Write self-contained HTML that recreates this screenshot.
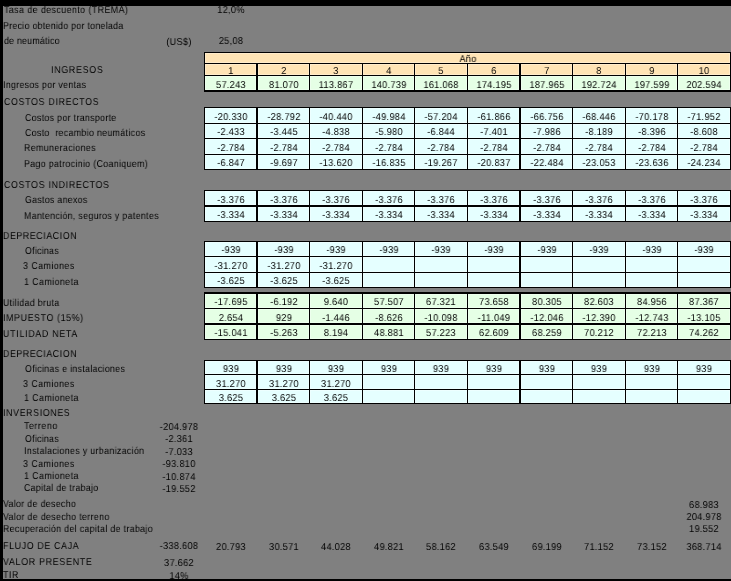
<!DOCTYPE html>
<html><head><meta charset="utf-8"><style>
html,body{margin:0;padding:0;}
body{width:731px;height:581px;position:relative;overflow:hidden;background:#808080;}
.r{position:absolute;}
.c{box-shadow:inset 0 0 0 1px rgba(255,255,255,0.3);}
.t{position:absolute;will-change:transform;text-rendering:geometricPrecision;font-family:"Liberation Sans", sans-serif;font-size:10px;line-height:12px;height:12px;white-space:pre;color:#000;}
.n{}
</style></head><body>
<div class="r" style="left:0px;top:0px;width:731px;height:6px;background:#000"></div>
<div class="r" style="left:0px;top:0px;width:3px;height:581px;background:#000"></div>
<div class="r" style="left:0px;top:579px;width:731px;height:2px;background:#000"></div>
<div class="r" style="left:204px;top:52px;width:527px;height:40px;background:#000"></div>
<div class="r c" style="left:205px;top:53px;width:525px;height:10px;background:#FFE4B5"></div>
<div class="r c" style="left:205px;top:64px;width:51px;height:11px;background:#FFE4B5"></div>
<div class="r c" style="left:258px;top:64px;width:51px;height:11px;background:#FFE4B5"></div>
<div class="r c" style="left:310px;top:64px;width:52px;height:11px;background:#FFE4B5"></div>
<div class="r c" style="left:363px;top:64px;width:51px;height:11px;background:#FFE4B5"></div>
<div class="r c" style="left:415px;top:64px;width:52px;height:11px;background:#FFE4B5"></div>
<div class="r c" style="left:468px;top:64px;width:51px;height:11px;background:#FFE4B5"></div>
<div class="r c" style="left:521px;top:64px;width:51px;height:11px;background:#FFE4B5"></div>
<div class="r c" style="left:573px;top:64px;width:52px;height:11px;background:#FFE4B5"></div>
<div class="r c" style="left:626px;top:64px;width:51px;height:11px;background:#FFE4B5"></div>
<div class="r c" style="left:678px;top:64px;width:52px;height:11px;background:#FFE4B5"></div>
<div class="r c" style="left:205px;top:76px;width:51px;height:14px;background:#E5FFE5"></div>
<div class="r c" style="left:258px;top:76px;width:51px;height:14px;background:#E5FFE5"></div>
<div class="r c" style="left:310px;top:76px;width:52px;height:14px;background:#E5FFE5"></div>
<div class="r c" style="left:363px;top:76px;width:51px;height:14px;background:#E5FFE5"></div>
<div class="r c" style="left:415px;top:76px;width:52px;height:14px;background:#E5FFE5"></div>
<div class="r c" style="left:468px;top:76px;width:51px;height:14px;background:#E5FFE5"></div>
<div class="r c" style="left:521px;top:76px;width:51px;height:14px;background:#E5FFE5"></div>
<div class="r c" style="left:573px;top:76px;width:52px;height:14px;background:#E5FFE5"></div>
<div class="r c" style="left:626px;top:76px;width:51px;height:14px;background:#E5FFE5"></div>
<div class="r c" style="left:678px;top:76px;width:52px;height:14px;background:#E5FFE5"></div>
<div class="r" style="left:204px;top:107px;width:527px;height:63px;background:#000"></div>
<div class="r c" style="left:205px;top:108px;width:51px;height:15px;background:#E5FFFF"></div>
<div class="r c" style="left:258px;top:108px;width:51px;height:15px;background:#E5FFFF"></div>
<div class="r c" style="left:310px;top:108px;width:52px;height:15px;background:#E5FFFF"></div>
<div class="r c" style="left:363px;top:108px;width:51px;height:15px;background:#E5FFFF"></div>
<div class="r c" style="left:415px;top:108px;width:52px;height:15px;background:#E5FFFF"></div>
<div class="r c" style="left:468px;top:108px;width:51px;height:15px;background:#E5FFFF"></div>
<div class="r c" style="left:521px;top:108px;width:51px;height:15px;background:#E5FFFF"></div>
<div class="r c" style="left:573px;top:108px;width:52px;height:15px;background:#E5FFFF"></div>
<div class="r c" style="left:626px;top:108px;width:51px;height:15px;background:#E5FFFF"></div>
<div class="r c" style="left:678px;top:108px;width:52px;height:15px;background:#E5FFFF"></div>
<div class="r c" style="left:205px;top:124px;width:51px;height:14px;background:#E5FFFF"></div>
<div class="r c" style="left:258px;top:124px;width:51px;height:14px;background:#E5FFFF"></div>
<div class="r c" style="left:310px;top:124px;width:52px;height:14px;background:#E5FFFF"></div>
<div class="r c" style="left:363px;top:124px;width:51px;height:14px;background:#E5FFFF"></div>
<div class="r c" style="left:415px;top:124px;width:52px;height:14px;background:#E5FFFF"></div>
<div class="r c" style="left:468px;top:124px;width:51px;height:14px;background:#E5FFFF"></div>
<div class="r c" style="left:521px;top:124px;width:51px;height:14px;background:#E5FFFF"></div>
<div class="r c" style="left:573px;top:124px;width:52px;height:14px;background:#E5FFFF"></div>
<div class="r c" style="left:626px;top:124px;width:51px;height:14px;background:#E5FFFF"></div>
<div class="r c" style="left:678px;top:124px;width:52px;height:14px;background:#E5FFFF"></div>
<div class="r c" style="left:205px;top:139px;width:51px;height:15px;background:#E5FFFF"></div>
<div class="r c" style="left:258px;top:139px;width:51px;height:15px;background:#E5FFFF"></div>
<div class="r c" style="left:310px;top:139px;width:52px;height:15px;background:#E5FFFF"></div>
<div class="r c" style="left:363px;top:139px;width:51px;height:15px;background:#E5FFFF"></div>
<div class="r c" style="left:415px;top:139px;width:52px;height:15px;background:#E5FFFF"></div>
<div class="r c" style="left:468px;top:139px;width:51px;height:15px;background:#E5FFFF"></div>
<div class="r c" style="left:521px;top:139px;width:51px;height:15px;background:#E5FFFF"></div>
<div class="r c" style="left:573px;top:139px;width:52px;height:15px;background:#E5FFFF"></div>
<div class="r c" style="left:626px;top:139px;width:51px;height:15px;background:#E5FFFF"></div>
<div class="r c" style="left:678px;top:139px;width:52px;height:15px;background:#E5FFFF"></div>
<div class="r c" style="left:205px;top:155px;width:51px;height:14px;background:#E5FFFF"></div>
<div class="r c" style="left:258px;top:155px;width:51px;height:14px;background:#E5FFFF"></div>
<div class="r c" style="left:310px;top:155px;width:52px;height:14px;background:#E5FFFF"></div>
<div class="r c" style="left:363px;top:155px;width:51px;height:14px;background:#E5FFFF"></div>
<div class="r c" style="left:415px;top:155px;width:52px;height:14px;background:#E5FFFF"></div>
<div class="r c" style="left:468px;top:155px;width:51px;height:14px;background:#E5FFFF"></div>
<div class="r c" style="left:521px;top:155px;width:51px;height:14px;background:#E5FFFF"></div>
<div class="r c" style="left:573px;top:155px;width:52px;height:14px;background:#E5FFFF"></div>
<div class="r c" style="left:626px;top:155px;width:51px;height:14px;background:#E5FFFF"></div>
<div class="r c" style="left:678px;top:155px;width:52px;height:14px;background:#E5FFFF"></div>
<div class="r" style="left:204px;top:190px;width:527px;height:32px;background:#000"></div>
<div class="r c" style="left:205px;top:191px;width:51px;height:14px;background:#E5FFFF"></div>
<div class="r c" style="left:258px;top:191px;width:51px;height:14px;background:#E5FFFF"></div>
<div class="r c" style="left:310px;top:191px;width:52px;height:14px;background:#E5FFFF"></div>
<div class="r c" style="left:363px;top:191px;width:51px;height:14px;background:#E5FFFF"></div>
<div class="r c" style="left:415px;top:191px;width:52px;height:14px;background:#E5FFFF"></div>
<div class="r c" style="left:468px;top:191px;width:51px;height:14px;background:#E5FFFF"></div>
<div class="r c" style="left:521px;top:191px;width:51px;height:14px;background:#E5FFFF"></div>
<div class="r c" style="left:573px;top:191px;width:52px;height:14px;background:#E5FFFF"></div>
<div class="r c" style="left:626px;top:191px;width:51px;height:14px;background:#E5FFFF"></div>
<div class="r c" style="left:678px;top:191px;width:52px;height:14px;background:#E5FFFF"></div>
<div class="r c" style="left:205px;top:207px;width:51px;height:14px;background:#E5FFFF"></div>
<div class="r c" style="left:258px;top:207px;width:51px;height:14px;background:#E5FFFF"></div>
<div class="r c" style="left:310px;top:207px;width:52px;height:14px;background:#E5FFFF"></div>
<div class="r c" style="left:363px;top:207px;width:51px;height:14px;background:#E5FFFF"></div>
<div class="r c" style="left:415px;top:207px;width:52px;height:14px;background:#E5FFFF"></div>
<div class="r c" style="left:468px;top:207px;width:51px;height:14px;background:#E5FFFF"></div>
<div class="r c" style="left:521px;top:207px;width:51px;height:14px;background:#E5FFFF"></div>
<div class="r c" style="left:573px;top:207px;width:52px;height:14px;background:#E5FFFF"></div>
<div class="r c" style="left:626px;top:207px;width:51px;height:14px;background:#E5FFFF"></div>
<div class="r c" style="left:678px;top:207px;width:52px;height:14px;background:#E5FFFF"></div>
<div class="r" style="left:204px;top:241px;width:527px;height:47px;background:#000"></div>
<div class="r c" style="left:205px;top:242px;width:51px;height:14px;background:#E5FFFF"></div>
<div class="r c" style="left:258px;top:242px;width:51px;height:14px;background:#E5FFFF"></div>
<div class="r c" style="left:310px;top:242px;width:52px;height:14px;background:#E5FFFF"></div>
<div class="r c" style="left:363px;top:242px;width:51px;height:14px;background:#E5FFFF"></div>
<div class="r c" style="left:415px;top:242px;width:52px;height:14px;background:#E5FFFF"></div>
<div class="r c" style="left:468px;top:242px;width:51px;height:14px;background:#E5FFFF"></div>
<div class="r c" style="left:521px;top:242px;width:51px;height:14px;background:#E5FFFF"></div>
<div class="r c" style="left:573px;top:242px;width:52px;height:14px;background:#E5FFFF"></div>
<div class="r c" style="left:626px;top:242px;width:51px;height:14px;background:#E5FFFF"></div>
<div class="r c" style="left:678px;top:242px;width:52px;height:14px;background:#E5FFFF"></div>
<div class="r c" style="left:205px;top:257px;width:51px;height:15px;background:#E5FFFF"></div>
<div class="r c" style="left:258px;top:257px;width:51px;height:15px;background:#E5FFFF"></div>
<div class="r c" style="left:310px;top:257px;width:52px;height:15px;background:#E5FFFF"></div>
<div class="r c" style="left:363px;top:257px;width:51px;height:15px;background:#E5FFFF"></div>
<div class="r c" style="left:415px;top:257px;width:52px;height:15px;background:#E5FFFF"></div>
<div class="r c" style="left:468px;top:257px;width:51px;height:15px;background:#E5FFFF"></div>
<div class="r c" style="left:521px;top:257px;width:51px;height:15px;background:#E5FFFF"></div>
<div class="r c" style="left:573px;top:257px;width:52px;height:15px;background:#E5FFFF"></div>
<div class="r c" style="left:626px;top:257px;width:51px;height:15px;background:#E5FFFF"></div>
<div class="r c" style="left:678px;top:257px;width:52px;height:15px;background:#E5FFFF"></div>
<div class="r c" style="left:205px;top:273px;width:51px;height:14px;background:#E5FFFF"></div>
<div class="r c" style="left:258px;top:273px;width:51px;height:14px;background:#E5FFFF"></div>
<div class="r c" style="left:310px;top:273px;width:52px;height:14px;background:#E5FFFF"></div>
<div class="r c" style="left:363px;top:273px;width:51px;height:14px;background:#E5FFFF"></div>
<div class="r c" style="left:415px;top:273px;width:52px;height:14px;background:#E5FFFF"></div>
<div class="r c" style="left:468px;top:273px;width:51px;height:14px;background:#E5FFFF"></div>
<div class="r c" style="left:521px;top:273px;width:51px;height:14px;background:#E5FFFF"></div>
<div class="r c" style="left:573px;top:273px;width:52px;height:14px;background:#E5FFFF"></div>
<div class="r c" style="left:626px;top:273px;width:51px;height:14px;background:#E5FFFF"></div>
<div class="r c" style="left:678px;top:273px;width:52px;height:14px;background:#E5FFFF"></div>
<div class="r" style="left:204px;top:292px;width:527px;height:48px;background:#000"></div>
<div class="r c" style="left:205px;top:294px;width:51px;height:14px;background:#E5FFE5"></div>
<div class="r c" style="left:258px;top:294px;width:51px;height:14px;background:#E5FFE5"></div>
<div class="r c" style="left:310px;top:294px;width:52px;height:14px;background:#E5FFE5"></div>
<div class="r c" style="left:363px;top:294px;width:51px;height:14px;background:#E5FFE5"></div>
<div class="r c" style="left:415px;top:294px;width:52px;height:14px;background:#E5FFE5"></div>
<div class="r c" style="left:468px;top:294px;width:51px;height:14px;background:#E5FFE5"></div>
<div class="r c" style="left:521px;top:294px;width:51px;height:14px;background:#E5FFE5"></div>
<div class="r c" style="left:573px;top:294px;width:52px;height:14px;background:#E5FFE5"></div>
<div class="r c" style="left:626px;top:294px;width:51px;height:14px;background:#E5FFE5"></div>
<div class="r c" style="left:678px;top:294px;width:52px;height:14px;background:#E5FFE5"></div>
<div class="r c" style="left:205px;top:309px;width:51px;height:14px;background:#E5FFE5"></div>
<div class="r c" style="left:258px;top:309px;width:51px;height:14px;background:#E5FFE5"></div>
<div class="r c" style="left:310px;top:309px;width:52px;height:14px;background:#E5FFE5"></div>
<div class="r c" style="left:363px;top:309px;width:51px;height:14px;background:#E5FFE5"></div>
<div class="r c" style="left:415px;top:309px;width:52px;height:14px;background:#E5FFE5"></div>
<div class="r c" style="left:468px;top:309px;width:51px;height:14px;background:#E5FFE5"></div>
<div class="r c" style="left:521px;top:309px;width:51px;height:14px;background:#E5FFE5"></div>
<div class="r c" style="left:573px;top:309px;width:52px;height:14px;background:#E5FFE5"></div>
<div class="r c" style="left:626px;top:309px;width:51px;height:14px;background:#E5FFE5"></div>
<div class="r c" style="left:678px;top:309px;width:52px;height:14px;background:#E5FFE5"></div>
<div class="r c" style="left:205px;top:325px;width:51px;height:14px;background:#E5FFE5"></div>
<div class="r c" style="left:258px;top:325px;width:51px;height:14px;background:#E5FFE5"></div>
<div class="r c" style="left:310px;top:325px;width:52px;height:14px;background:#E5FFE5"></div>
<div class="r c" style="left:363px;top:325px;width:51px;height:14px;background:#E5FFE5"></div>
<div class="r c" style="left:415px;top:325px;width:52px;height:14px;background:#E5FFE5"></div>
<div class="r c" style="left:468px;top:325px;width:51px;height:14px;background:#E5FFE5"></div>
<div class="r c" style="left:521px;top:325px;width:51px;height:14px;background:#E5FFE5"></div>
<div class="r c" style="left:573px;top:325px;width:52px;height:14px;background:#E5FFE5"></div>
<div class="r c" style="left:626px;top:325px;width:51px;height:14px;background:#E5FFE5"></div>
<div class="r c" style="left:678px;top:325px;width:52px;height:14px;background:#E5FFE5"></div>
<div class="r" style="left:204px;top:360px;width:527px;height:44px;background:#000"></div>
<div class="r c" style="left:205px;top:361px;width:51px;height:13px;background:#E5FFFF"></div>
<div class="r c" style="left:258px;top:361px;width:51px;height:13px;background:#E5FFFF"></div>
<div class="r c" style="left:310px;top:361px;width:52px;height:13px;background:#E5FFFF"></div>
<div class="r c" style="left:363px;top:361px;width:51px;height:13px;background:#E5FFFF"></div>
<div class="r c" style="left:415px;top:361px;width:52px;height:13px;background:#E5FFFF"></div>
<div class="r c" style="left:468px;top:361px;width:51px;height:13px;background:#E5FFFF"></div>
<div class="r c" style="left:521px;top:361px;width:51px;height:13px;background:#E5FFFF"></div>
<div class="r c" style="left:573px;top:361px;width:52px;height:13px;background:#E5FFFF"></div>
<div class="r c" style="left:626px;top:361px;width:51px;height:13px;background:#E5FFFF"></div>
<div class="r c" style="left:678px;top:361px;width:52px;height:13px;background:#E5FFFF"></div>
<div class="r c" style="left:205px;top:375px;width:51px;height:14px;background:#E5FFFF"></div>
<div class="r c" style="left:258px;top:375px;width:51px;height:14px;background:#E5FFFF"></div>
<div class="r c" style="left:310px;top:375px;width:52px;height:14px;background:#E5FFFF"></div>
<div class="r c" style="left:363px;top:375px;width:51px;height:14px;background:#E5FFFF"></div>
<div class="r c" style="left:415px;top:375px;width:52px;height:14px;background:#E5FFFF"></div>
<div class="r c" style="left:468px;top:375px;width:51px;height:14px;background:#E5FFFF"></div>
<div class="r c" style="left:521px;top:375px;width:51px;height:14px;background:#E5FFFF"></div>
<div class="r c" style="left:573px;top:375px;width:52px;height:14px;background:#E5FFFF"></div>
<div class="r c" style="left:626px;top:375px;width:51px;height:14px;background:#E5FFFF"></div>
<div class="r c" style="left:678px;top:375px;width:52px;height:14px;background:#E5FFFF"></div>
<div class="r c" style="left:205px;top:390px;width:51px;height:13px;background:#E5FFFF"></div>
<div class="r c" style="left:258px;top:390px;width:51px;height:13px;background:#E5FFFF"></div>
<div class="r c" style="left:310px;top:390px;width:52px;height:13px;background:#E5FFFF"></div>
<div class="r c" style="left:363px;top:390px;width:51px;height:13px;background:#E5FFFF"></div>
<div class="r c" style="left:415px;top:390px;width:52px;height:13px;background:#E5FFFF"></div>
<div class="r c" style="left:468px;top:390px;width:51px;height:13px;background:#E5FFFF"></div>
<div class="r c" style="left:521px;top:390px;width:51px;height:13px;background:#E5FFFF"></div>
<div class="r c" style="left:573px;top:390px;width:52px;height:13px;background:#E5FFFF"></div>
<div class="r c" style="left:626px;top:390px;width:51px;height:13px;background:#E5FFFF"></div>
<div class="r c" style="left:678px;top:390px;width:52px;height:13px;background:#E5FFFF"></div>
<div class="t n" style="top:54px;left:367.5px;width:200px;text-align:center;letter-spacing:0.3px;transform:scaleX(0.92);transform-origin:50% 0;">Año</div>
<div class="t n" style="top:66px;left:130.5px;width:200px;text-align:center;letter-spacing:0.3px;transform:scaleX(0.92);transform-origin:50% 0;">1</div>
<div class="t n" style="top:66px;left:183.5px;width:200px;text-align:center;letter-spacing:0.3px;transform:scaleX(0.92);transform-origin:50% 0;">2</div>
<div class="t n" style="top:66px;left:236.0px;width:200px;text-align:center;letter-spacing:0.3px;transform:scaleX(0.92);transform-origin:50% 0;">3</div>
<div class="t n" style="top:66px;left:288.5px;width:200px;text-align:center;letter-spacing:0.3px;transform:scaleX(0.92);transform-origin:50% 0;">4</div>
<div class="t n" style="top:66px;left:341.0px;width:200px;text-align:center;letter-spacing:0.3px;transform:scaleX(0.92);transform-origin:50% 0;">5</div>
<div class="t n" style="top:66px;left:393.5px;width:200px;text-align:center;letter-spacing:0.3px;transform:scaleX(0.92);transform-origin:50% 0;">6</div>
<div class="t n" style="top:66px;left:446.5px;width:200px;text-align:center;letter-spacing:0.3px;transform:scaleX(0.92);transform-origin:50% 0;">7</div>
<div class="t n" style="top:66px;left:499.0px;width:200px;text-align:center;letter-spacing:0.3px;transform:scaleX(0.92);transform-origin:50% 0;">8</div>
<div class="t n" style="top:66px;left:551.5px;width:200px;text-align:center;letter-spacing:0.3px;transform:scaleX(0.92);transform-origin:50% 0;">9</div>
<div class="t n" style="top:66px;left:604.0px;width:200px;text-align:center;letter-spacing:0.3px;transform:scaleX(0.92);transform-origin:50% 0;">10</div>
<div class="t n" style="top:80px;left:130.5px;width:200px;text-align:center;letter-spacing:0.3px;transform:scaleX(0.92);transform-origin:50% 0;">57.243</div>
<div class="t n" style="top:80px;left:183.5px;width:200px;text-align:center;letter-spacing:0.3px;transform:scaleX(0.92);transform-origin:50% 0;">81.070</div>
<div class="t n" style="top:80px;left:236.0px;width:200px;text-align:center;letter-spacing:0.3px;transform:scaleX(0.92);transform-origin:50% 0;">113.867</div>
<div class="t n" style="top:80px;left:288.5px;width:200px;text-align:center;letter-spacing:0.3px;transform:scaleX(0.92);transform-origin:50% 0;">140.739</div>
<div class="t n" style="top:80px;left:341.0px;width:200px;text-align:center;letter-spacing:0.3px;transform:scaleX(0.92);transform-origin:50% 0;">161.068</div>
<div class="t n" style="top:80px;left:393.5px;width:200px;text-align:center;letter-spacing:0.3px;transform:scaleX(0.92);transform-origin:50% 0;">174.195</div>
<div class="t n" style="top:80px;left:446.5px;width:200px;text-align:center;letter-spacing:0.3px;transform:scaleX(0.92);transform-origin:50% 0;">187.965</div>
<div class="t n" style="top:80px;left:499.0px;width:200px;text-align:center;letter-spacing:0.3px;transform:scaleX(0.92);transform-origin:50% 0;">192.724</div>
<div class="t n" style="top:80px;left:551.5px;width:200px;text-align:center;letter-spacing:0.3px;transform:scaleX(0.92);transform-origin:50% 0;">197.599</div>
<div class="t n" style="top:80px;left:604.0px;width:200px;text-align:center;letter-spacing:0.3px;transform:scaleX(0.92);transform-origin:50% 0;">202.594</div>
<div class="t n" style="top:112px;left:130.5px;width:200px;text-align:center;letter-spacing:0.3px;transform:scaleX(0.92);transform-origin:50% 0;">-20.330</div>
<div class="t n" style="top:112px;left:183.5px;width:200px;text-align:center;letter-spacing:0.3px;transform:scaleX(0.92);transform-origin:50% 0;">-28.792</div>
<div class="t n" style="top:112px;left:236.0px;width:200px;text-align:center;letter-spacing:0.3px;transform:scaleX(0.92);transform-origin:50% 0;">-40.440</div>
<div class="t n" style="top:112px;left:288.5px;width:200px;text-align:center;letter-spacing:0.3px;transform:scaleX(0.92);transform-origin:50% 0;">-49.984</div>
<div class="t n" style="top:112px;left:341.0px;width:200px;text-align:center;letter-spacing:0.3px;transform:scaleX(0.92);transform-origin:50% 0;">-57.204</div>
<div class="t n" style="top:112px;left:393.5px;width:200px;text-align:center;letter-spacing:0.3px;transform:scaleX(0.92);transform-origin:50% 0;">-61.866</div>
<div class="t n" style="top:112px;left:446.5px;width:200px;text-align:center;letter-spacing:0.3px;transform:scaleX(0.92);transform-origin:50% 0;">-66.756</div>
<div class="t n" style="top:112px;left:499.0px;width:200px;text-align:center;letter-spacing:0.3px;transform:scaleX(0.92);transform-origin:50% 0;">-68.446</div>
<div class="t n" style="top:112px;left:551.5px;width:200px;text-align:center;letter-spacing:0.3px;transform:scaleX(0.92);transform-origin:50% 0;">-70.178</div>
<div class="t n" style="top:112px;left:604.0px;width:200px;text-align:center;letter-spacing:0.3px;transform:scaleX(0.92);transform-origin:50% 0;">-71.952</div>
<div class="t n" style="top:127px;left:130.5px;width:200px;text-align:center;letter-spacing:0.3px;transform:scaleX(0.92);transform-origin:50% 0;">-2.433</div>
<div class="t n" style="top:127px;left:183.5px;width:200px;text-align:center;letter-spacing:0.3px;transform:scaleX(0.92);transform-origin:50% 0;">-3.445</div>
<div class="t n" style="top:127px;left:236.0px;width:200px;text-align:center;letter-spacing:0.3px;transform:scaleX(0.92);transform-origin:50% 0;">-4.838</div>
<div class="t n" style="top:127px;left:288.5px;width:200px;text-align:center;letter-spacing:0.3px;transform:scaleX(0.92);transform-origin:50% 0;">-5.980</div>
<div class="t n" style="top:127px;left:341.0px;width:200px;text-align:center;letter-spacing:0.3px;transform:scaleX(0.92);transform-origin:50% 0;">-6.844</div>
<div class="t n" style="top:127px;left:393.5px;width:200px;text-align:center;letter-spacing:0.3px;transform:scaleX(0.92);transform-origin:50% 0;">-7.401</div>
<div class="t n" style="top:127px;left:446.5px;width:200px;text-align:center;letter-spacing:0.3px;transform:scaleX(0.92);transform-origin:50% 0;">-7.986</div>
<div class="t n" style="top:127px;left:499.0px;width:200px;text-align:center;letter-spacing:0.3px;transform:scaleX(0.92);transform-origin:50% 0;">-8.189</div>
<div class="t n" style="top:127px;left:551.5px;width:200px;text-align:center;letter-spacing:0.3px;transform:scaleX(0.92);transform-origin:50% 0;">-8.396</div>
<div class="t n" style="top:127px;left:604.0px;width:200px;text-align:center;letter-spacing:0.3px;transform:scaleX(0.92);transform-origin:50% 0;">-8.608</div>
<div class="t n" style="top:143px;left:130.5px;width:200px;text-align:center;letter-spacing:0.3px;transform:scaleX(0.92);transform-origin:50% 0;">-2.784</div>
<div class="t n" style="top:143px;left:183.5px;width:200px;text-align:center;letter-spacing:0.3px;transform:scaleX(0.92);transform-origin:50% 0;">-2.784</div>
<div class="t n" style="top:143px;left:236.0px;width:200px;text-align:center;letter-spacing:0.3px;transform:scaleX(0.92);transform-origin:50% 0;">-2.784</div>
<div class="t n" style="top:143px;left:288.5px;width:200px;text-align:center;letter-spacing:0.3px;transform:scaleX(0.92);transform-origin:50% 0;">-2.784</div>
<div class="t n" style="top:143px;left:341.0px;width:200px;text-align:center;letter-spacing:0.3px;transform:scaleX(0.92);transform-origin:50% 0;">-2.784</div>
<div class="t n" style="top:143px;left:393.5px;width:200px;text-align:center;letter-spacing:0.3px;transform:scaleX(0.92);transform-origin:50% 0;">-2.784</div>
<div class="t n" style="top:143px;left:446.5px;width:200px;text-align:center;letter-spacing:0.3px;transform:scaleX(0.92);transform-origin:50% 0;">-2.784</div>
<div class="t n" style="top:143px;left:499.0px;width:200px;text-align:center;letter-spacing:0.3px;transform:scaleX(0.92);transform-origin:50% 0;">-2.784</div>
<div class="t n" style="top:143px;left:551.5px;width:200px;text-align:center;letter-spacing:0.3px;transform:scaleX(0.92);transform-origin:50% 0;">-2.784</div>
<div class="t n" style="top:143px;left:604.0px;width:200px;text-align:center;letter-spacing:0.3px;transform:scaleX(0.92);transform-origin:50% 0;">-2.784</div>
<div class="t n" style="top:158px;left:130.5px;width:200px;text-align:center;letter-spacing:0.3px;transform:scaleX(0.92);transform-origin:50% 0;">-6.847</div>
<div class="t n" style="top:158px;left:183.5px;width:200px;text-align:center;letter-spacing:0.3px;transform:scaleX(0.92);transform-origin:50% 0;">-9.697</div>
<div class="t n" style="top:158px;left:236.0px;width:200px;text-align:center;letter-spacing:0.3px;transform:scaleX(0.92);transform-origin:50% 0;">-13.620</div>
<div class="t n" style="top:158px;left:288.5px;width:200px;text-align:center;letter-spacing:0.3px;transform:scaleX(0.92);transform-origin:50% 0;">-16.835</div>
<div class="t n" style="top:158px;left:341.0px;width:200px;text-align:center;letter-spacing:0.3px;transform:scaleX(0.92);transform-origin:50% 0;">-19.267</div>
<div class="t n" style="top:158px;left:393.5px;width:200px;text-align:center;letter-spacing:0.3px;transform:scaleX(0.92);transform-origin:50% 0;">-20.837</div>
<div class="t n" style="top:158px;left:446.5px;width:200px;text-align:center;letter-spacing:0.3px;transform:scaleX(0.92);transform-origin:50% 0;">-22.484</div>
<div class="t n" style="top:158px;left:499.0px;width:200px;text-align:center;letter-spacing:0.3px;transform:scaleX(0.92);transform-origin:50% 0;">-23.053</div>
<div class="t n" style="top:158px;left:551.5px;width:200px;text-align:center;letter-spacing:0.3px;transform:scaleX(0.92);transform-origin:50% 0;">-23.636</div>
<div class="t n" style="top:158px;left:604.0px;width:200px;text-align:center;letter-spacing:0.3px;transform:scaleX(0.92);transform-origin:50% 0;">-24.234</div>
<div class="t n" style="top:195px;left:130.5px;width:200px;text-align:center;letter-spacing:0.3px;transform:scaleX(0.92);transform-origin:50% 0;">-3.376</div>
<div class="t n" style="top:195px;left:183.5px;width:200px;text-align:center;letter-spacing:0.3px;transform:scaleX(0.92);transform-origin:50% 0;">-3.376</div>
<div class="t n" style="top:195px;left:236.0px;width:200px;text-align:center;letter-spacing:0.3px;transform:scaleX(0.92);transform-origin:50% 0;">-3.376</div>
<div class="t n" style="top:195px;left:288.5px;width:200px;text-align:center;letter-spacing:0.3px;transform:scaleX(0.92);transform-origin:50% 0;">-3.376</div>
<div class="t n" style="top:195px;left:341.0px;width:200px;text-align:center;letter-spacing:0.3px;transform:scaleX(0.92);transform-origin:50% 0;">-3.376</div>
<div class="t n" style="top:195px;left:393.5px;width:200px;text-align:center;letter-spacing:0.3px;transform:scaleX(0.92);transform-origin:50% 0;">-3.376</div>
<div class="t n" style="top:195px;left:446.5px;width:200px;text-align:center;letter-spacing:0.3px;transform:scaleX(0.92);transform-origin:50% 0;">-3.376</div>
<div class="t n" style="top:195px;left:499.0px;width:200px;text-align:center;letter-spacing:0.3px;transform:scaleX(0.92);transform-origin:50% 0;">-3.376</div>
<div class="t n" style="top:195px;left:551.5px;width:200px;text-align:center;letter-spacing:0.3px;transform:scaleX(0.92);transform-origin:50% 0;">-3.376</div>
<div class="t n" style="top:195px;left:604.0px;width:200px;text-align:center;letter-spacing:0.3px;transform:scaleX(0.92);transform-origin:50% 0;">-3.376</div>
<div class="t n" style="top:210px;left:130.5px;width:200px;text-align:center;letter-spacing:0.3px;transform:scaleX(0.92);transform-origin:50% 0;">-3.334</div>
<div class="t n" style="top:210px;left:183.5px;width:200px;text-align:center;letter-spacing:0.3px;transform:scaleX(0.92);transform-origin:50% 0;">-3.334</div>
<div class="t n" style="top:210px;left:236.0px;width:200px;text-align:center;letter-spacing:0.3px;transform:scaleX(0.92);transform-origin:50% 0;">-3.334</div>
<div class="t n" style="top:210px;left:288.5px;width:200px;text-align:center;letter-spacing:0.3px;transform:scaleX(0.92);transform-origin:50% 0;">-3.334</div>
<div class="t n" style="top:210px;left:341.0px;width:200px;text-align:center;letter-spacing:0.3px;transform:scaleX(0.92);transform-origin:50% 0;">-3.334</div>
<div class="t n" style="top:210px;left:393.5px;width:200px;text-align:center;letter-spacing:0.3px;transform:scaleX(0.92);transform-origin:50% 0;">-3.334</div>
<div class="t n" style="top:210px;left:446.5px;width:200px;text-align:center;letter-spacing:0.3px;transform:scaleX(0.92);transform-origin:50% 0;">-3.334</div>
<div class="t n" style="top:210px;left:499.0px;width:200px;text-align:center;letter-spacing:0.3px;transform:scaleX(0.92);transform-origin:50% 0;">-3.334</div>
<div class="t n" style="top:210px;left:551.5px;width:200px;text-align:center;letter-spacing:0.3px;transform:scaleX(0.92);transform-origin:50% 0;">-3.334</div>
<div class="t n" style="top:210px;left:604.0px;width:200px;text-align:center;letter-spacing:0.3px;transform:scaleX(0.92);transform-origin:50% 0;">-3.334</div>
<div class="t n" style="top:245px;left:130.5px;width:200px;text-align:center;letter-spacing:0.3px;transform:scaleX(0.92);transform-origin:50% 0;">-939</div>
<div class="t n" style="top:245px;left:183.5px;width:200px;text-align:center;letter-spacing:0.3px;transform:scaleX(0.92);transform-origin:50% 0;">-939</div>
<div class="t n" style="top:245px;left:236.0px;width:200px;text-align:center;letter-spacing:0.3px;transform:scaleX(0.92);transform-origin:50% 0;">-939</div>
<div class="t n" style="top:245px;left:288.5px;width:200px;text-align:center;letter-spacing:0.3px;transform:scaleX(0.92);transform-origin:50% 0;">-939</div>
<div class="t n" style="top:245px;left:341.0px;width:200px;text-align:center;letter-spacing:0.3px;transform:scaleX(0.92);transform-origin:50% 0;">-939</div>
<div class="t n" style="top:245px;left:393.5px;width:200px;text-align:center;letter-spacing:0.3px;transform:scaleX(0.92);transform-origin:50% 0;">-939</div>
<div class="t n" style="top:245px;left:446.5px;width:200px;text-align:center;letter-spacing:0.3px;transform:scaleX(0.92);transform-origin:50% 0;">-939</div>
<div class="t n" style="top:245px;left:499.0px;width:200px;text-align:center;letter-spacing:0.3px;transform:scaleX(0.92);transform-origin:50% 0;">-939</div>
<div class="t n" style="top:245px;left:551.5px;width:200px;text-align:center;letter-spacing:0.3px;transform:scaleX(0.92);transform-origin:50% 0;">-939</div>
<div class="t n" style="top:245px;left:604.0px;width:200px;text-align:center;letter-spacing:0.3px;transform:scaleX(0.92);transform-origin:50% 0;">-939</div>
<div class="t n" style="top:261px;left:130.5px;width:200px;text-align:center;letter-spacing:0.3px;transform:scaleX(0.92);transform-origin:50% 0;">-31.270</div>
<div class="t n" style="top:261px;left:183.5px;width:200px;text-align:center;letter-spacing:0.3px;transform:scaleX(0.92);transform-origin:50% 0;">-31.270</div>
<div class="t n" style="top:261px;left:236.0px;width:200px;text-align:center;letter-spacing:0.3px;transform:scaleX(0.92);transform-origin:50% 0;">-31.270</div>
<div class="t n" style="top:276px;left:130.5px;width:200px;text-align:center;letter-spacing:0.3px;transform:scaleX(0.92);transform-origin:50% 0;">-3.625</div>
<div class="t n" style="top:276px;left:183.5px;width:200px;text-align:center;letter-spacing:0.3px;transform:scaleX(0.92);transform-origin:50% 0;">-3.625</div>
<div class="t n" style="top:276px;left:236.0px;width:200px;text-align:center;letter-spacing:0.3px;transform:scaleX(0.92);transform-origin:50% 0;">-3.625</div>
<div class="t n" style="top:297px;left:130.5px;width:200px;text-align:center;letter-spacing:0.3px;transform:scaleX(0.92);transform-origin:50% 0;">-17.695</div>
<div class="t n" style="top:297px;left:183.5px;width:200px;text-align:center;letter-spacing:0.3px;transform:scaleX(0.92);transform-origin:50% 0;">-6.192</div>
<div class="t n" style="top:297px;left:236.0px;width:200px;text-align:center;letter-spacing:0.3px;transform:scaleX(0.92);transform-origin:50% 0;">9.640</div>
<div class="t n" style="top:297px;left:288.5px;width:200px;text-align:center;letter-spacing:0.3px;transform:scaleX(0.92);transform-origin:50% 0;">57.507</div>
<div class="t n" style="top:297px;left:341.0px;width:200px;text-align:center;letter-spacing:0.3px;transform:scaleX(0.92);transform-origin:50% 0;">67.321</div>
<div class="t n" style="top:297px;left:393.5px;width:200px;text-align:center;letter-spacing:0.3px;transform:scaleX(0.92);transform-origin:50% 0;">73.658</div>
<div class="t n" style="top:297px;left:446.5px;width:200px;text-align:center;letter-spacing:0.3px;transform:scaleX(0.92);transform-origin:50% 0;">80.305</div>
<div class="t n" style="top:297px;left:499.0px;width:200px;text-align:center;letter-spacing:0.3px;transform:scaleX(0.92);transform-origin:50% 0;">82.603</div>
<div class="t n" style="top:297px;left:551.5px;width:200px;text-align:center;letter-spacing:0.3px;transform:scaleX(0.92);transform-origin:50% 0;">84.956</div>
<div class="t n" style="top:297px;left:604.0px;width:200px;text-align:center;letter-spacing:0.3px;transform:scaleX(0.92);transform-origin:50% 0;">87.367</div>
<div class="t n" style="top:313px;left:130.5px;width:200px;text-align:center;letter-spacing:0.3px;transform:scaleX(0.92);transform-origin:50% 0;">2.654</div>
<div class="t n" style="top:313px;left:183.5px;width:200px;text-align:center;letter-spacing:0.3px;transform:scaleX(0.92);transform-origin:50% 0;">929</div>
<div class="t n" style="top:313px;left:236.0px;width:200px;text-align:center;letter-spacing:0.3px;transform:scaleX(0.92);transform-origin:50% 0;">-1.446</div>
<div class="t n" style="top:313px;left:288.5px;width:200px;text-align:center;letter-spacing:0.3px;transform:scaleX(0.92);transform-origin:50% 0;">-8.626</div>
<div class="t n" style="top:313px;left:341.0px;width:200px;text-align:center;letter-spacing:0.3px;transform:scaleX(0.92);transform-origin:50% 0;">-10.098</div>
<div class="t n" style="top:313px;left:393.5px;width:200px;text-align:center;letter-spacing:0.3px;transform:scaleX(0.92);transform-origin:50% 0;">-11.049</div>
<div class="t n" style="top:313px;left:446.5px;width:200px;text-align:center;letter-spacing:0.3px;transform:scaleX(0.92);transform-origin:50% 0;">-12.046</div>
<div class="t n" style="top:313px;left:499.0px;width:200px;text-align:center;letter-spacing:0.3px;transform:scaleX(0.92);transform-origin:50% 0;">-12.390</div>
<div class="t n" style="top:313px;left:551.5px;width:200px;text-align:center;letter-spacing:0.3px;transform:scaleX(0.92);transform-origin:50% 0;">-12.743</div>
<div class="t n" style="top:313px;left:604.0px;width:200px;text-align:center;letter-spacing:0.3px;transform:scaleX(0.92);transform-origin:50% 0;">-13.105</div>
<div class="t n" style="top:328px;left:130.5px;width:200px;text-align:center;letter-spacing:0.3px;transform:scaleX(0.92);transform-origin:50% 0;">-15.041</div>
<div class="t n" style="top:328px;left:183.5px;width:200px;text-align:center;letter-spacing:0.3px;transform:scaleX(0.92);transform-origin:50% 0;">-5.263</div>
<div class="t n" style="top:328px;left:236.0px;width:200px;text-align:center;letter-spacing:0.3px;transform:scaleX(0.92);transform-origin:50% 0;">8.194</div>
<div class="t n" style="top:328px;left:288.5px;width:200px;text-align:center;letter-spacing:0.3px;transform:scaleX(0.92);transform-origin:50% 0;">48.881</div>
<div class="t n" style="top:328px;left:341.0px;width:200px;text-align:center;letter-spacing:0.3px;transform:scaleX(0.92);transform-origin:50% 0;">57.223</div>
<div class="t n" style="top:328px;left:393.5px;width:200px;text-align:center;letter-spacing:0.3px;transform:scaleX(0.92);transform-origin:50% 0;">62.609</div>
<div class="t n" style="top:328px;left:446.5px;width:200px;text-align:center;letter-spacing:0.3px;transform:scaleX(0.92);transform-origin:50% 0;">68.259</div>
<div class="t n" style="top:328px;left:499.0px;width:200px;text-align:center;letter-spacing:0.3px;transform:scaleX(0.92);transform-origin:50% 0;">70.212</div>
<div class="t n" style="top:328px;left:551.5px;width:200px;text-align:center;letter-spacing:0.3px;transform:scaleX(0.92);transform-origin:50% 0;">72.213</div>
<div class="t n" style="top:328px;left:604.0px;width:200px;text-align:center;letter-spacing:0.3px;transform:scaleX(0.92);transform-origin:50% 0;">74.262</div>
<div class="t n" style="top:364px;left:130.5px;width:200px;text-align:center;letter-spacing:0.3px;transform:scaleX(0.92);transform-origin:50% 0;">939</div>
<div class="t n" style="top:364px;left:183.5px;width:200px;text-align:center;letter-spacing:0.3px;transform:scaleX(0.92);transform-origin:50% 0;">939</div>
<div class="t n" style="top:364px;left:236.0px;width:200px;text-align:center;letter-spacing:0.3px;transform:scaleX(0.92);transform-origin:50% 0;">939</div>
<div class="t n" style="top:364px;left:288.5px;width:200px;text-align:center;letter-spacing:0.3px;transform:scaleX(0.92);transform-origin:50% 0;">939</div>
<div class="t n" style="top:364px;left:341.0px;width:200px;text-align:center;letter-spacing:0.3px;transform:scaleX(0.92);transform-origin:50% 0;">939</div>
<div class="t n" style="top:364px;left:393.5px;width:200px;text-align:center;letter-spacing:0.3px;transform:scaleX(0.92);transform-origin:50% 0;">939</div>
<div class="t n" style="top:364px;left:446.5px;width:200px;text-align:center;letter-spacing:0.3px;transform:scaleX(0.92);transform-origin:50% 0;">939</div>
<div class="t n" style="top:364px;left:499.0px;width:200px;text-align:center;letter-spacing:0.3px;transform:scaleX(0.92);transform-origin:50% 0;">939</div>
<div class="t n" style="top:364px;left:551.5px;width:200px;text-align:center;letter-spacing:0.3px;transform:scaleX(0.92);transform-origin:50% 0;">939</div>
<div class="t n" style="top:364px;left:604.0px;width:200px;text-align:center;letter-spacing:0.3px;transform:scaleX(0.92);transform-origin:50% 0;">939</div>
<div class="t n" style="top:379px;left:130.5px;width:200px;text-align:center;letter-spacing:0.3px;transform:scaleX(0.92);transform-origin:50% 0;">31.270</div>
<div class="t n" style="top:379px;left:183.5px;width:200px;text-align:center;letter-spacing:0.3px;transform:scaleX(0.92);transform-origin:50% 0;">31.270</div>
<div class="t n" style="top:379px;left:236.0px;width:200px;text-align:center;letter-spacing:0.3px;transform:scaleX(0.92);transform-origin:50% 0;">31.270</div>
<div class="t n" style="top:393px;left:130.5px;width:200px;text-align:center;letter-spacing:0.3px;transform:scaleX(0.92);transform-origin:50% 0;">3.625</div>
<div class="t n" style="top:393px;left:183.5px;width:200px;text-align:center;letter-spacing:0.3px;transform:scaleX(0.92);transform-origin:50% 0;">3.625</div>
<div class="t n" style="top:393px;left:236.0px;width:200px;text-align:center;letter-spacing:0.3px;transform:scaleX(0.92);transform-origin:50% 0;">3.625</div>
<div class="t" style="top:5px;left:4.1px;letter-spacing:0.514px;transform:scaleX(0.88);transform-origin:0 0;">Tasa de descuento (TREMA)</div>
<div class="t" style="top:21px;left:2.82px;letter-spacing:0.322px;transform:scaleX(0.88);transform-origin:0 0;">Precio obtenido por tonelada</div>
<div class="t" style="top:36px;left:3.7px;letter-spacing:0.269px;transform:scaleX(0.88);transform-origin:0 0;">de neumático</div>
<div class="t" style="top:65px;left:50.82px;letter-spacing:0.864px;transform:scaleX(0.88);transform-origin:0 0;">INGRESOS</div>
<div class="t" style="top:80px;left:2.82px;letter-spacing:0.355px;transform:scaleX(0.88);transform-origin:0 0;">Ingresos por ventas</div>
<div class="t" style="top:97px;left:3.7px;letter-spacing:0.797px;transform:scaleX(0.88);transform-origin:0 0;">COSTOS DIRECTOS</div>
<div class="t" style="top:113px;left:24.6px;letter-spacing:0.376px;transform:scaleX(0.88);transform-origin:0 0;">Costos por transporte</div>
<div class="t" style="top:128px;left:24.6px;letter-spacing:0.387px;transform:scaleX(0.88);transform-origin:0 0;">Costo&nbsp; recambio neumáticos</div>
<div class="t" style="top:143px;left:23.72px;letter-spacing:0.444px;transform:scaleX(0.88);transform-origin:0 0;">Remuneraciones</div>
<div class="t" style="top:159px;left:23.72px;letter-spacing:0.401px;transform:scaleX(0.88);transform-origin:0 0;">Pago patrocinio (Coaniquem)</div>
<div class="t" style="top:180px;left:3.7px;letter-spacing:0.804px;transform:scaleX(0.88);transform-origin:0 0;">COSTOS INDIRECTOS</div>
<div class="t" style="top:195px;left:24.6px;letter-spacing:0.333px;transform:scaleX(0.88);transform-origin:0 0;">Gastos anexos</div>
<div class="t" style="top:211px;left:23.72px;letter-spacing:0.384px;transform:scaleX(0.88);transform-origin:0 0;">Mantención, seguros y patentes</div>
<div class="t" style="top:231px;left:2.82px;letter-spacing:0.682px;transform:scaleX(0.88);transform-origin:0 0;">DEPRECIACION</div>
<div class="t" style="top:246px;left:24.6px;letter-spacing:0.295px;transform:scaleX(0.88);transform-origin:0 0;">Oficinas</div>
<div class="t" style="top:261px;left:23.02px;letter-spacing:0.535px;transform:scaleX(0.88);transform-origin:0 0;">3 Camiones</div>
<div class="t" style="top:277px;left:23.72px;letter-spacing:0.502px;transform:scaleX(0.88);transform-origin:0 0;">1 Camioneta</div>
<div class="t" style="top:298px;left:2.82px;letter-spacing:0.381px;transform:scaleX(0.88);transform-origin:0 0;">Utilidad bruta</div>
<div class="t" style="top:313px;left:2.82px;letter-spacing:0.734px;transform:scaleX(0.88);transform-origin:0 0;">IMPUESTO (15%)</div>
<div class="t" style="top:329px;left:2.82px;letter-spacing:0.839px;transform:scaleX(0.88);transform-origin:0 0;">UTILIDAD NETA</div>
<div class="t" style="top:349px;left:2.82px;letter-spacing:0.682px;transform:scaleX(0.88);transform-origin:0 0;">DEPRECIACION</div>
<div class="t" style="top:364px;left:24.6px;letter-spacing:0.366px;transform:scaleX(0.88);transform-origin:0 0;">Oficinas e instalaciones</div>
<div class="t" style="top:379px;left:23.02px;letter-spacing:0.535px;transform:scaleX(0.88);transform-origin:0 0;">3 Camiones</div>
<div class="t" style="top:393px;left:23.72px;letter-spacing:0.502px;transform:scaleX(0.88);transform-origin:0 0;">1 Camioneta</div>
<div class="t" style="top:408px;left:2.52px;letter-spacing:0.743px;transform:scaleX(0.88);transform-origin:0 0;">INVERSIONES</div>
<div class="t" style="top:421px;left:24.4px;letter-spacing:0.655px;transform:scaleX(0.88);transform-origin:0 0;">Terreno</div>
<div class="t" style="top:434px;left:24.6px;letter-spacing:0.295px;transform:scaleX(0.88);transform-origin:0 0;">Oficinas</div>
<div class="t" style="top:446px;left:23.52px;letter-spacing:0.399px;transform:scaleX(0.88);transform-origin:0 0;">Instalaciones y urbanización</div>
<div class="t" style="top:459px;left:23.02px;letter-spacing:0.535px;transform:scaleX(0.88);transform-origin:0 0;">3 Camiones</div>
<div class="t" style="top:471px;left:23.72px;letter-spacing:0.502px;transform:scaleX(0.88);transform-origin:0 0;">1 Camioneta</div>
<div class="t" style="top:483px;left:24.4px;letter-spacing:0.345px;transform:scaleX(0.88);transform-origin:0 0;">Capital de trabajo</div>
<div class="t" style="top:499px;left:3.4px;letter-spacing:0.374px;transform:scaleX(0.88);transform-origin:0 0;">Valor de desecho</div>
<div class="t" style="top:512px;left:3.4px;letter-spacing:0.401px;transform:scaleX(0.88);transform-origin:0 0;">Valor de desecho terreno</div>
<div class="t" style="top:524px;left:2.52px;letter-spacing:0.388px;transform:scaleX(0.88);transform-origin:0 0;">Recuperación del capital de trabajo</div>
<div class="t" style="top:541px;left:2.52px;letter-spacing:0.769px;transform:scaleX(0.88);transform-origin:0 0;">FLUJO DE CAJA</div>
<div class="t" style="top:557px;left:3.4px;letter-spacing:0.846px;transform:scaleX(0.88);transform-origin:0 0;">VALOR PRESENTE</div>
<div class="t" style="top:570px;left:3.4px;letter-spacing:0.693px;transform:scaleX(0.88);transform-origin:0 0;">TIR</div>
<div class="t n" style="top:37px;left:78.5px;width:200px;text-align:center;letter-spacing:0.3px;transform:scaleX(0.92);transform-origin:50% 0;">(US$)</div>
<div class="t n" style="top:422px;left:78.5px;width:200px;text-align:center;letter-spacing:0.3px;transform:scaleX(0.92);transform-origin:50% 0;">-204.978</div>
<div class="t n" style="top:434px;left:78.5px;width:200px;text-align:center;letter-spacing:0.3px;transform:scaleX(0.92);transform-origin:50% 0;">-2.361</div>
<div class="t n" style="top:447px;left:78.5px;width:200px;text-align:center;letter-spacing:0.3px;transform:scaleX(0.92);transform-origin:50% 0;">-7.033</div>
<div class="t n" style="top:459px;left:78.5px;width:200px;text-align:center;letter-spacing:0.3px;transform:scaleX(0.92);transform-origin:50% 0;">-93.810</div>
<div class="t n" style="top:472px;left:78.5px;width:200px;text-align:center;letter-spacing:0.3px;transform:scaleX(0.92);transform-origin:50% 0;">-10.874</div>
<div class="t n" style="top:484px;left:78.5px;width:200px;text-align:center;letter-spacing:0.3px;transform:scaleX(0.92);transform-origin:50% 0;">-19.552</div>
<div class="t n" style="top:541px;left:78.5px;width:200px;text-align:center;letter-spacing:0.3px;transform:scaleX(0.92);transform-origin:50% 0;">-338.608</div>
<div class="t n" style="top:558px;left:78.5px;width:200px;text-align:center;letter-spacing:0.3px;transform:scaleX(0.92);transform-origin:50% 0;">37.662</div>
<div class="t n" style="top:571px;left:78.5px;width:200px;text-align:center;letter-spacing:0.3px;transform:scaleX(0.92);transform-origin:50% 0;">14%</div>
<div class="t n" style="top:5px;left:131px;width:200px;text-align:center;letter-spacing:0.3px;transform:scaleX(0.92);transform-origin:50% 0;">12,0%</div>
<div class="t n" style="top:36px;left:131px;width:200px;text-align:center;letter-spacing:0.3px;transform:scaleX(0.92);transform-origin:50% 0;">25,08</div>
<div class="t n" style="top:500px;left:604.0px;width:200px;text-align:center;letter-spacing:0.3px;transform:scaleX(0.92);transform-origin:50% 0;">68.983</div>
<div class="t n" style="top:512px;left:604.0px;width:200px;text-align:center;letter-spacing:0.3px;transform:scaleX(0.92);transform-origin:50% 0;">204.978</div>
<div class="t n" style="top:524px;left:604.0px;width:200px;text-align:center;letter-spacing:0.3px;transform:scaleX(0.92);transform-origin:50% 0;">19.552</div>
<div class="t n" style="top:542px;left:130.5px;width:200px;text-align:center;letter-spacing:0.3px;transform:scaleX(0.92);transform-origin:50% 0;">20.793</div>
<div class="t n" style="top:542px;left:183.5px;width:200px;text-align:center;letter-spacing:0.3px;transform:scaleX(0.92);transform-origin:50% 0;">30.571</div>
<div class="t n" style="top:542px;left:236.0px;width:200px;text-align:center;letter-spacing:0.3px;transform:scaleX(0.92);transform-origin:50% 0;">44.028</div>
<div class="t n" style="top:542px;left:288.5px;width:200px;text-align:center;letter-spacing:0.3px;transform:scaleX(0.92);transform-origin:50% 0;">49.821</div>
<div class="t n" style="top:542px;left:341.0px;width:200px;text-align:center;letter-spacing:0.3px;transform:scaleX(0.92);transform-origin:50% 0;">58.162</div>
<div class="t n" style="top:542px;left:393.5px;width:200px;text-align:center;letter-spacing:0.3px;transform:scaleX(0.92);transform-origin:50% 0;">63.549</div>
<div class="t n" style="top:542px;left:446.5px;width:200px;text-align:center;letter-spacing:0.3px;transform:scaleX(0.92);transform-origin:50% 0;">69.199</div>
<div class="t n" style="top:542px;left:499.0px;width:200px;text-align:center;letter-spacing:0.3px;transform:scaleX(0.92);transform-origin:50% 0;">71.152</div>
<div class="t n" style="top:542px;left:551.5px;width:200px;text-align:center;letter-spacing:0.3px;transform:scaleX(0.92);transform-origin:50% 0;">73.152</div>
<div class="t n" style="top:542px;left:604.0px;width:200px;text-align:center;letter-spacing:0.3px;transform:scaleX(0.92);transform-origin:50% 0;">368.714</div>
<div class="r" style="left:0;top:0;width:731px;height:6px;background:#000"></div><div class="r" style="left:0;top:579px;width:731px;height:2px;background:#000"></div><div class="r" style="left:0;top:0;width:3px;height:581px;background:#000"></div></body></html>
